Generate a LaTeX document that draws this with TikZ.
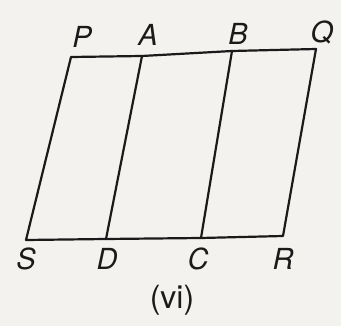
\documentclass[tikz,border=0pt]{standalone}
\usepackage{fontspec}
\setsansfont{TeX Gyre Heros}
\definecolor{paper}{HTML}{F4F2EE}
\definecolor{ink}{HTML}{1A1A1A}

\begin{document}
\begin{tikzpicture}[x=1pt,y=-1pt,
    edge/.style={draw=ink,line width=2.2pt,line join=round},
    lbl/.style={text=ink,font=\sffamily\itshape\fontsize{29}{29}\selectfont,inner sep=0pt},
    caption/.style={text=ink,font=\sffamily\fontsize{32}{32}\selectfont,inner sep=0pt}]
    \fill[paper] (0,0) rectangle (341,326);
    % corners and division points
    \coordinate (P) at (71,57);
    \coordinate (A) at (142,56);
    \coordinate (B) at (232,51);
    \coordinate (Q) at (316,49);
    \coordinate (S) at (26,240);
    \coordinate (D) at (106,239);
    \coordinate (C) at (201,238);
    \coordinate (R) at (283,236);
    \draw[edge] (P) -- (A) -- (B) -- (Q) -- (R) -- (C) -- (D) -- (S) -- cycle;
    \draw[edge] (A) -- (D);
    \draw[edge] (B) -- (C);
    % labels
    \node[lbl] (Plbl) at (82,37) {P};
    \node[lbl] (Albl) at (148,35) {A};
    \node[lbl] (Blbl) at (238,34) {B};
    \node[lbl] (Qlbl) at (322,32) {Q};
    \node[lbl] (Slbl) at (26,259) {S};
    \node[lbl] (Dlbl) at (107,259) {D};
    \node[lbl] (Clbl) at (198,259) {C};
    \node[lbl] (Rlbl) at (283,259) {R};
    \node[caption] (title) at (172,300) {(vi)};
\end{tikzpicture}
\end{document}
